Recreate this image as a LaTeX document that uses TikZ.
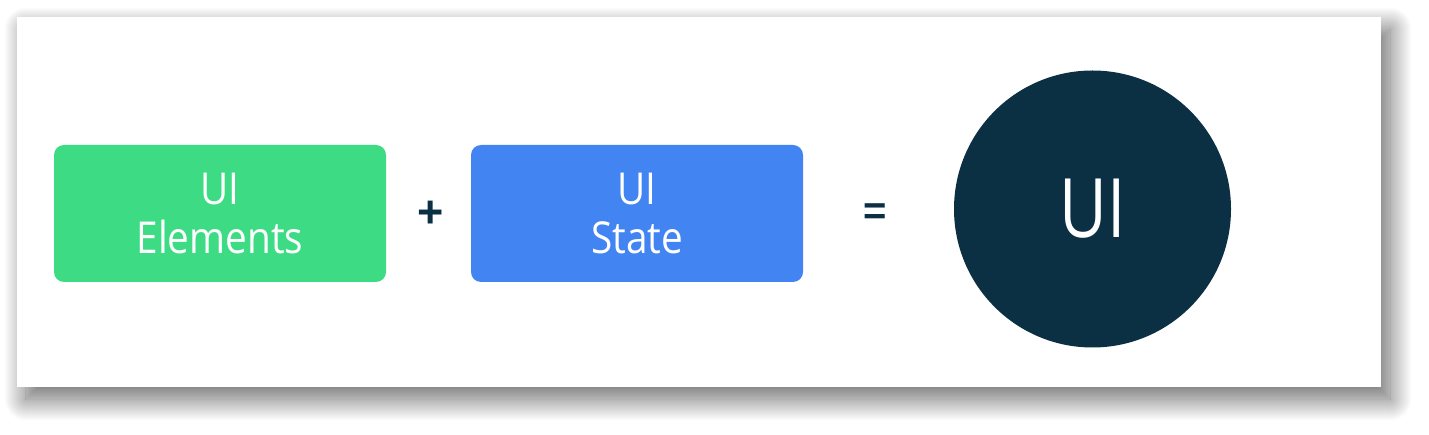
\documentclass[tikz,border=0pt]{standalone}
\usepackage{fontspec}
\setmainfont[FakeStretch=0.88]{Open Sans}
\newfontfamily\circfont[FakeStretch=0.8]{Open Sans}
\newfontfamily\symfont{Liberation Sans}
\usetikzlibrary{shadows.blur}
\definecolor{uigreen}{HTML}{3DDC84}
\definecolor{uiblue}{HTML}{4384F3}
\definecolor{uidark}{HTML}{0B3043}
\tikzset{
  uibox/.style={rectangle, rounded corners=10pt, minimum width=332pt, minimum height=137pt,
    inner sep=0pt, text=white, align=center, font=\fontsize{44pt}{49pt}\selectfont},
  uicircle/.style={circle, fill=uidark, minimum size=277pt, inner sep=0pt, text=white,
    font=\circfont\fontsize{82pt}{90pt}\selectfont},
  uiop/.style={text=uidark, inner sep=0pt}
}
\begin{document}
\begin{tikzpicture}[x=1pt,y=-1pt]
\useasboundingbox (0,0) rectangle (1429,435);
\fill[white, blur shadow={shadow xshift=9pt, shadow yshift=-12pt, shadow blur radius=22pt, shadow blur steps=50, shadow opacity=60}] (17,17) rectangle (1381,387);
\node[uicircle] (ui) at (1092.5,209) {UI};
\node[uibox, fill=uigreen] (elem) at (220,213.5) {UI\\Elements};
\node[uibox, fill=uiblue] (state) at (637,213.5) {UI\\State};
\node[uiop, font=\symfont\bfseries\fontsize{45pt}{45pt}\selectfont] (plus) at (430.5,214) {+};
\node[uiop, font=\symfont\bfseries\fontsize{40pt}{40pt}\selectfont] (eq) at (875,214.5) {=};
\end{tikzpicture}
\end{document}
